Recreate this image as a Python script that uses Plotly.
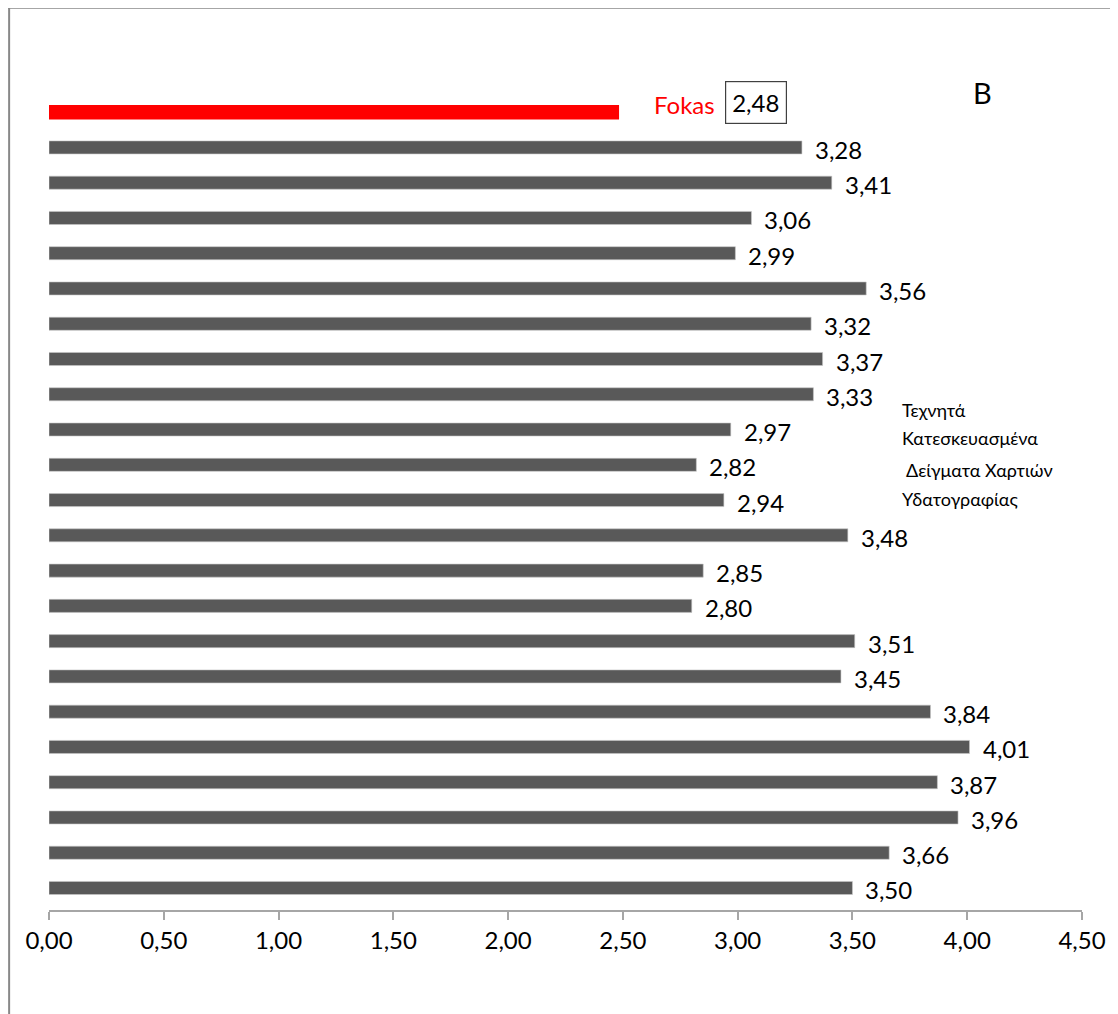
import plotly.graph_objects as go

# Data (top to bottom as in the chart)
categories = ["Fokas"] + [f"S{i}" for i in range(1, 23)]
values = [2.48, 3.28, 3.41, 3.06, 2.99, 3.56, 3.32, 3.37, 3.33, 2.97, 2.82, 2.94,
          3.48, 2.85, 2.80, 3.51, 3.45, 3.84, 4.01, 3.87, 3.96, 3.66, 3.50]
tick_vals = [0, 0.5, 1.0, 1.5, 2.0, 2.5, 3.0, 3.5, 4.0, 4.5]
tick_text = ["0,00", "0,50", "1,00", "1,50", "2,00", "2,50", "3,00", "3,50", "4,00", "4,50"]
note_lines = ["Τεχνητά", "Κατεσκευασμένα", "\u00a0Δείγματα Χαρτιών", "Υδατογραφίας"]
panel_label = "B"

FONT = "Lato, 'Open Sans', sans-serif"
GRAY = "#595959"
RED = "#ff0000"

def fmt(v):
    return f"{v:.2f}".replace(".", ",")

colors = [RED] + [GRAY] * (len(values) - 1)
line_colors = [RED] + ["#c8c8c8"] * (len(values) - 1)
line_widths = [1.5] + [0.6] * (len(values) - 1)

fig = go.Figure()
fig.add_trace(go.Bar(
    x=values, y=categories, orientation="h",
    width=0.37,
    marker=dict(color=colors, line=dict(color=line_colors, width=line_widths)),
    hoverinfo="skip", showlegend=False,
))

annotations = []
for c, v in zip(categories[1:], values[1:]):
    annotations.append(dict(
        x=v, y=c, xref="x", yref="y", text=fmt(v), showarrow=False,
        xanchor="left", yanchor="middle", xshift=11, yshift=-2,
        font=dict(family=FONT, size=24, color="#000000"),
    ))
# Fokas labels
annotations.append(dict(
    x=values[0], y=categories[0], xref="x", yref="y", text=categories[0],
    showarrow=False, xanchor="left", yanchor="middle", xshift=34, yshift=8,
    font=dict(family=FONT, size=24, color=RED),
))
annotations.append(dict(
    x=values[0], y=categories[0], xref="x", yref="y", text=fmt(values[0]),
    showarrow=False, xanchor="center", yanchor="middle", xshift=138, yshift=10,
    font=dict(family=FONT, size=24, color="#000000"),
    bordercolor="#404040", borderwidth=1.2, borderpad=6,
))
# panel label
annotations.append(dict(
    x=0.904, y=0.9976, xref="paper", yref="paper", text=panel_label,
    showarrow=False, xanchor="center", yanchor="middle",
    font=dict(family=FONT, size=29, color="#000000"),
))
# note lines
note_y = [0.6105, 0.5763, 0.5372, 0.5018]
for t, yy in zip(note_lines, note_y):
    annotations.append(dict(
        x=0.824, y=yy, xref="paper", yref="paper", text=t,
        showarrow=False, xanchor="left", yanchor="middle",
        font=dict(family=FONT, size=18, color="#000000"),
    ))

shapes = [
    dict(type="line", xref="paper", yref="paper", x0=-0.0396, x1=1.04, y0=1.1015, y1=1.1015,
         line=dict(color="#888888", width=2)),
    dict(type="line", xref="paper", yref="paper", x0=-0.0386, x1=-0.0386, y0=1.102, y1=-0.14,
         line=dict(color="#888888", width=2)),
]

fig.update_layout(
    width=1110, height=1006,
    margin=dict(l=41, r=34, t=83, b=104),
    paper_bgcolor="white", plot_bgcolor="white",
    xaxis=dict(
        range=[0, 4.5], tickvals=tick_vals, ticktext=tick_text,
        showline=True, linecolor="#a6a6a6", linewidth=1.5,
        ticks="outside", ticklen=8, tickcolor="#a6a6a6", tickwidth=1.5,
        showgrid=False, zeroline=False,
        tickfont=dict(family=FONT, size=24, color="#000000"),
    ),
    yaxis=dict(
        type="category", categoryorder="array", categoryarray=categories,
        range=[22.624, -0.6], showticklabels=False, showgrid=False,
        zeroline=False, showline=False, ticks="",
    ),
    annotations=annotations,
    shapes=shapes,
)

fig.write_html("out.html")
